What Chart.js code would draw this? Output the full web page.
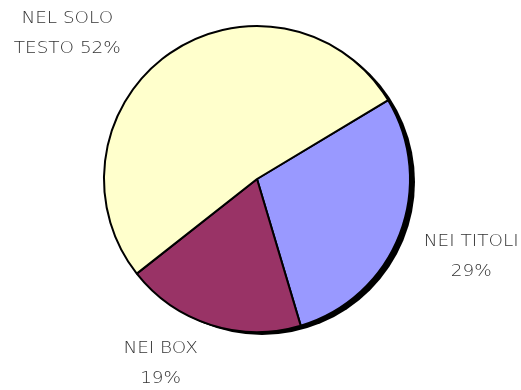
<!DOCTYPE html>
<html>
<head>
<meta charset="utf-8">
<script src="https://cdn.jsdelivr.net/npm/chart.js@4"></script>
<style>
  html, body { margin: 0; padding: 0; background: #fff; }
  #wrap { width: 521px; height: 390px; }
</style>
</head>
<body>
<div id="wrap"><canvas id="pieChart"></canvas></div>
<script>
    // Data
    var categories = ['NEI TITOLI', 'NEI BOX', 'NEL SOLO TESTO'];
    var values = [29, 19, 52];
    var labelLines = [['NEI TITOLI', '29%'], ['NEI BOX', '19%'], ['NEL SOLO', 'TESTO 52%']];
    var sliceColors = ['#9999ff', '#993366', '#ffffcc'];

    // where each label sits, in units of the pie radius from its centre
    var labelAnchors = [[1.40, 0.51], [-0.63, 1.21], [-1.24, -0.95]];

    // black drop shadow behind the pie
    var shadowPlugin = {
        id: 'shadow',
        beforeDatasetsDraw: function (chart) {
            var arc = chart.getDatasetMeta(0).data[0];
            if (!arc) return;
            var ctx = chart.ctx;
            ctx.save();
            ctx.fillStyle = '#000';
            ctx.beginPath();
            ctx.arc(arc.x + 5, arc.y + 3, arc.outerRadius, 0, Math.PI * 2);
            ctx.fill();
            ctx.restore();
        }
    };

    // outside labels (font stretched a bit to look like the original's wide face)
    var labelPlugin = {
        id: 'outLabels',
        afterDatasetsDraw: function (chart) {
            var meta = chart.getDatasetMeta(0);
            var ctx = chart.ctx;
            var sx = 1.15;
            meta.data.forEach(function (arc, i) {
                var cx = arc.x + labelAnchors[i][0] * arc.outerRadius;
                var cy = arc.y + labelAnchors[i][1] * arc.outerRadius;
                var lines = labelLines[i];
                lines.forEach(function (t, j) {
                    ctx.save();
                    ctx.font = '200 16px "DejaVu Sans"';
                    ctx.fillStyle = '#333';
                    ctx.textAlign = 'center';
                    ctx.textBaseline = 'middle';
                    ctx.translate(cx, cy + (j - (lines.length - 1) / 2) * 30);
                    ctx.scale(sx, 1);
                    ctx.fillText(t, 0, 0);
                    ctx.restore();
                });
            });
        }
    };

    var ctxPie = document.getElementById('pieChart').getContext('2d');
    new Chart(ctxPie, {
        type: 'pie',
        data: {
            labels: categories,
            datasets: [{
                data: values,
                backgroundColor: sliceColors,
                borderColor: '#000',
                borderWidth: 2,
                borderAlign: 'center'
            }]
        },
        options: {
            responsive: true,
            maintainAspectRatio: false,
            animation: false,
            rotation: 59,
            layout: {
                padding: { top: 25, bottom: 57, left: 0, right: 7 }
            },
            plugins: {
                legend: { display: false },
                tooltip: { enabled: false }
            }
        },
        plugins: [shadowPlugin, labelPlugin]
    });
</script>
</body>
</html>
